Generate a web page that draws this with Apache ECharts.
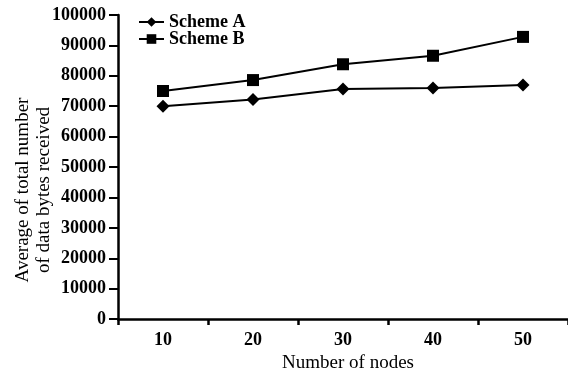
<!DOCTYPE html>
<html><head><meta charset="utf-8">
<script src="https://cdn.jsdelivr.net/npm/echarts@6/dist/echarts.min.js"></script>
<style>html,body{margin:0;padding:0;background:#fff}#c{width:568px;height:378px}</style>
</head><body><div id="c"></div>
<script>
const categories = ['10', '20', '30', '40', '50'];
const schemeA = [70000, 72200, 75700, 76000, 77000];
const schemeB = [75000, 78600, 83800, 86600, 92800];
const yName1 = 'Average of total number';
const yName2 = 'of data bytes received';
const xName = 'Number of nodes';

const F = '"Liberation Serif", "Times New Roman", serif';
const chart = echarts.init(document.getElementById('c'), null, {renderer: 'canvas'});
chart.setOption({
  animation: false,
  backgroundColor: '#fff',
  grid: {left: 118, top: 15, width: 456, height: 311, containLabel: false},
  legend: {
    left: 138, top: 13, padding: 0, orient: 'vertical', itemGap: -1, itemWidth: 25, itemHeight: 12,
    textStyle: {fontFamily: F, fontSize: 18, fontWeight: 'bold', color: '#000', lineHeight: 17},
    data: ['Scheme A', 'Scheme B']
  },
  xAxis: {
    type: 'category', data: categories, boundaryGap: true,
    name: xName, nameLocation: 'middle', nameGap: 30,
    nameTextStyle: {fontFamily: F, fontSize: 19, color: '#000', padding: [0, 0, 0, 10]},
    axisLine: {lineStyle: {color: '#000', width: 2.5}},
    axisTick: {show: true, length: 6, lineStyle: {width: 2.5, color: '#000'}, alignWithLabel: false},
    axisLabel: {fontFamily: F, fontSize: 18, fontWeight: 'bold', color: '#000', margin: 12}
  },
  yAxis: {
    type: 'value', min: 0, max: 100000, interval: 10000,
    splitLine: {show: false},
    axisLine: {show: true, lineStyle: {color: '#000', width: 2.5}},
    axisTick: {show: true, length: 9, lineStyle: {width: 2, color: '#000'}},
    axisLabel: {fontFamily: F, fontSize: 18, fontWeight: 'bold', color: '#000', margin: 12,
      formatter: function (v) { return String(v); }}
  },
  graphic: [
    {type: 'text', x: 23, y: 190, rotation: Math.PI / 2,
     style: {text: yName1, fontFamily: F, fontSize: 19, fill: '#000', align: 'center', verticalAlign: 'middle'}},
    {type: 'text', x: 44, y: 190, rotation: Math.PI / 2,
     style: {text: yName2, fontFamily: F, fontSize: 19, fill: '#000', align: 'center', verticalAlign: 'middle'}}
  ],
  series: [
    {name: 'Scheme A', type: 'line', data: schemeA, symbol: 'diamond', symbolSize: 13,
     lineStyle: {color: '#000', width: 2}, itemStyle: {color: '#000'}},
    {name: 'Scheme B', type: 'line', data: schemeB, symbol: 'rect', symbolSize: 12,
     lineStyle: {color: '#000', width: 2}, itemStyle: {color: '#000'}}
  ]
});
</script></body></html>
